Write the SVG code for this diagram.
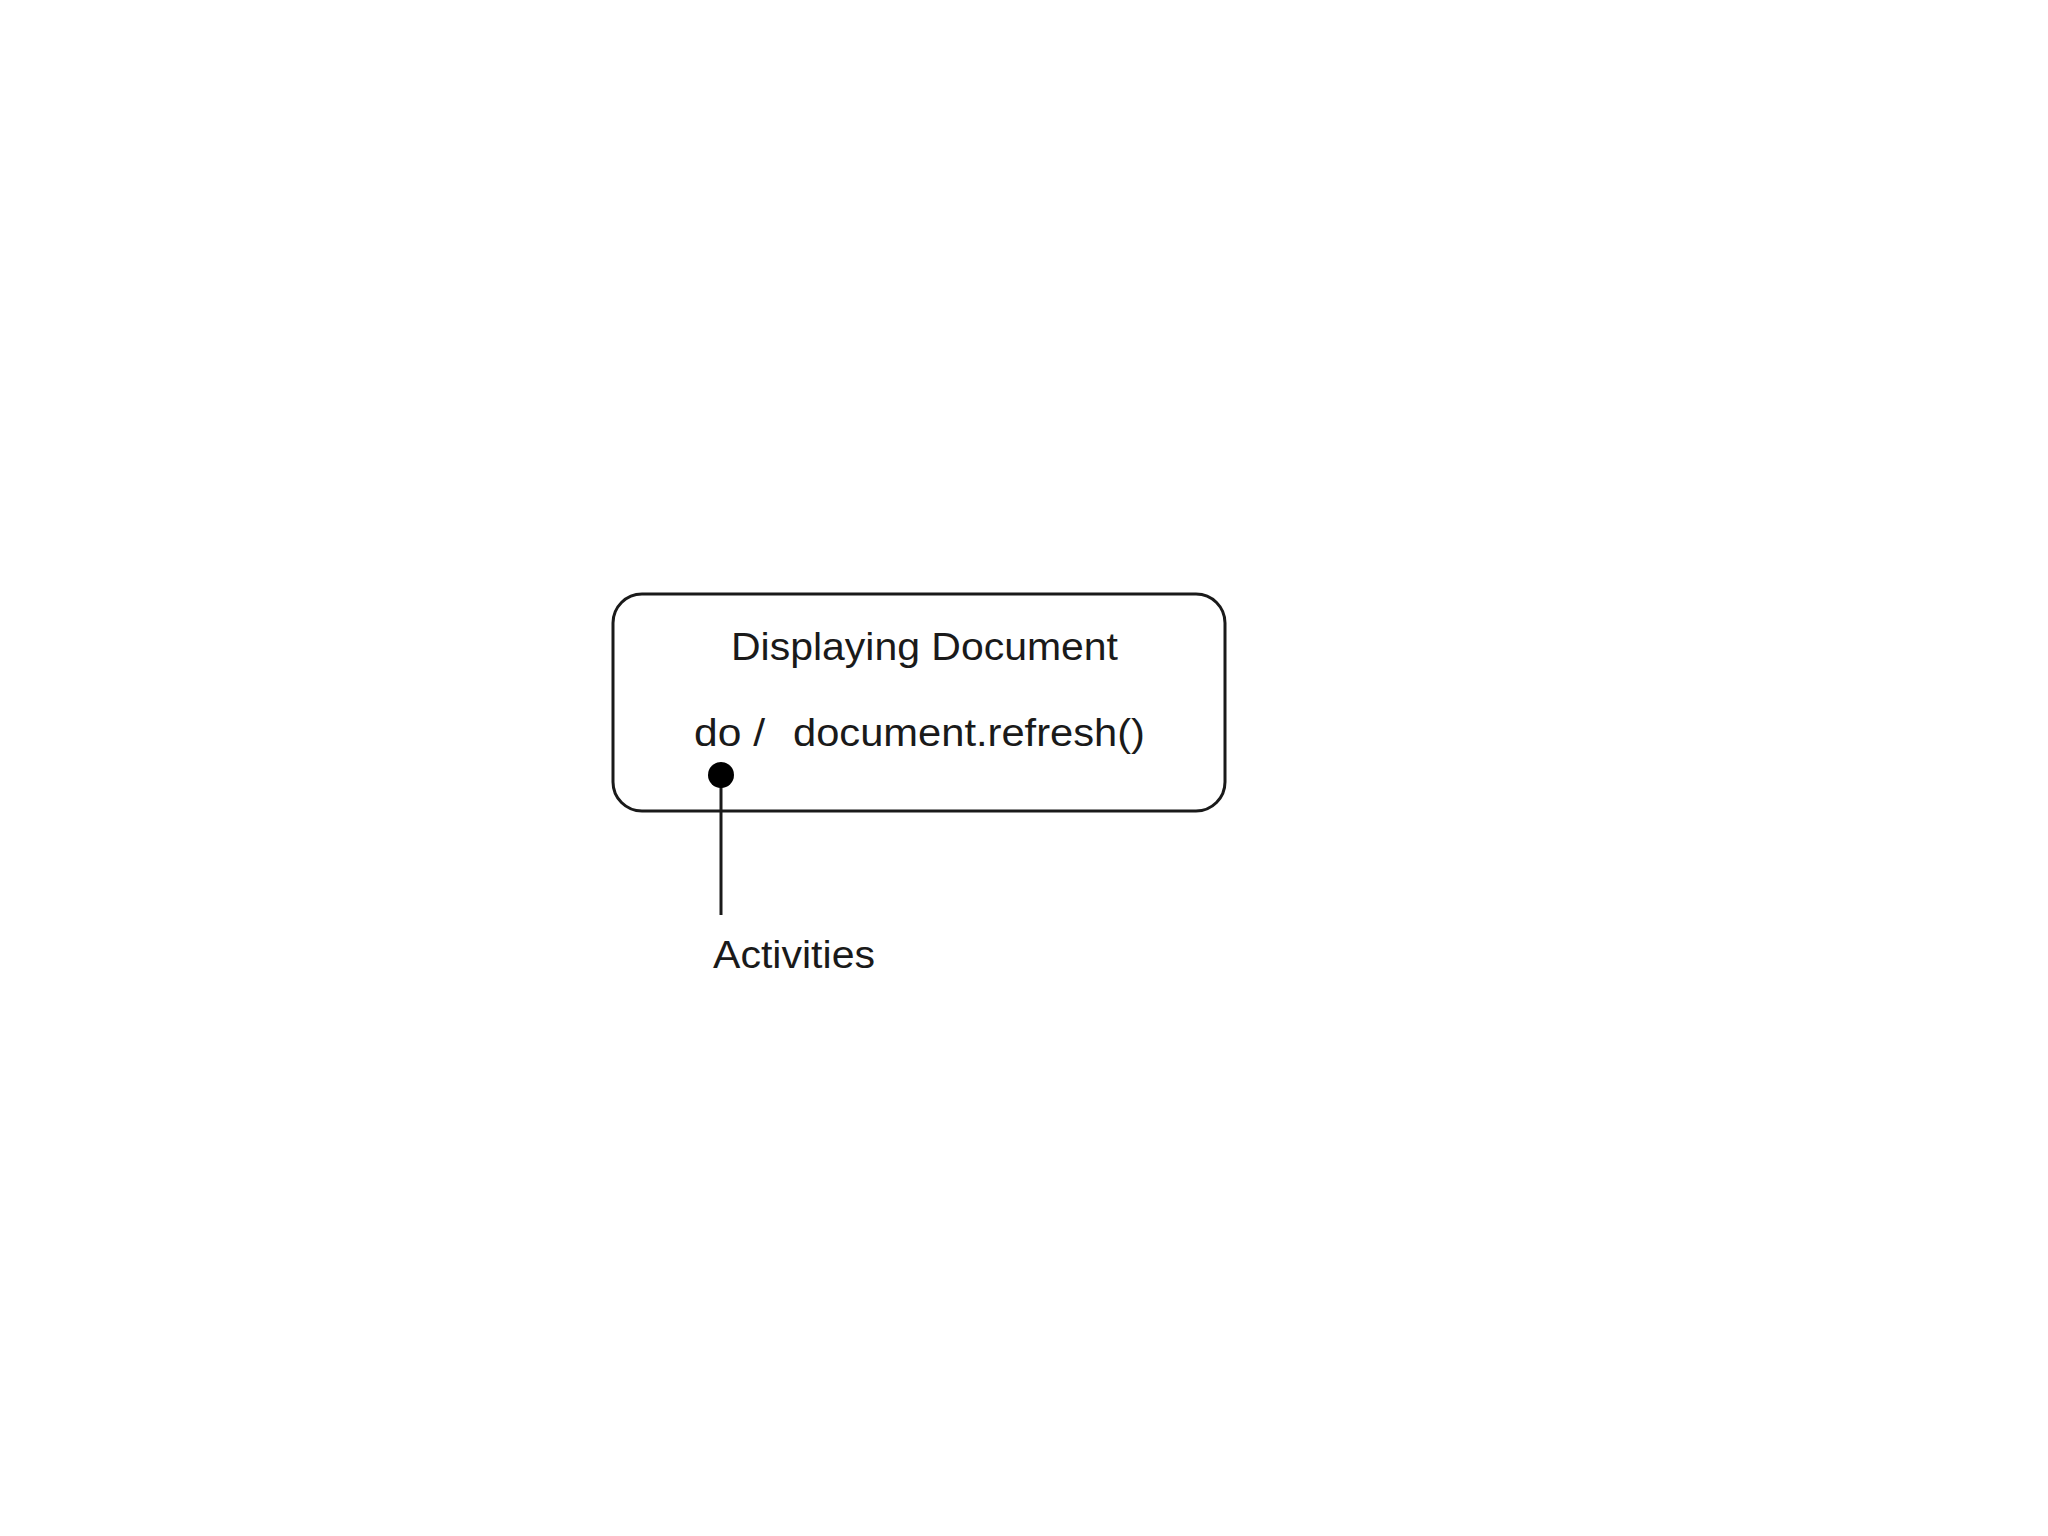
<svg xmlns="http://www.w3.org/2000/svg" width="2048" height="1536" viewBox="0 0 2048 1536">
<style>
.t{font-family:"Liberation Sans","DejaVu Sans",sans-serif;font-size:38px;fill:#1a1a1a}
.s{fill:none;stroke:#1a1a1a;stroke-width:3}
</style>
<rect width="2048" height="1536" fill="#fff"/>
<g id="state-displaying-document">
<rect class="s" x="613" y="594" width="612" height="217" rx="29" ry="29"/>
<text class="t" x="731" y="660" textLength="387" lengthAdjust="spacingAndGlyphs">Displaying Document</text>
<text class="t" y="746" xml:space="preserve"><tspan x="694" textLength="71" lengthAdjust="spacingAndGlyphs">do /</tspan>  <tspan x="793" textLength="352" lengthAdjust="spacingAndGlyphs">document.refresh()</tspan></text>
</g>
<g id="note-activities">
<text class="t" x="713" y="968" textLength="162" lengthAdjust="spacingAndGlyphs">Activities</text>
</g>
<g id="connectors">
<line class="s" x1="721" y1="775" x2="721" y2="915"/>
<circle cx="721" cy="775" r="13" fill="#000"/>
</g>
</svg>
